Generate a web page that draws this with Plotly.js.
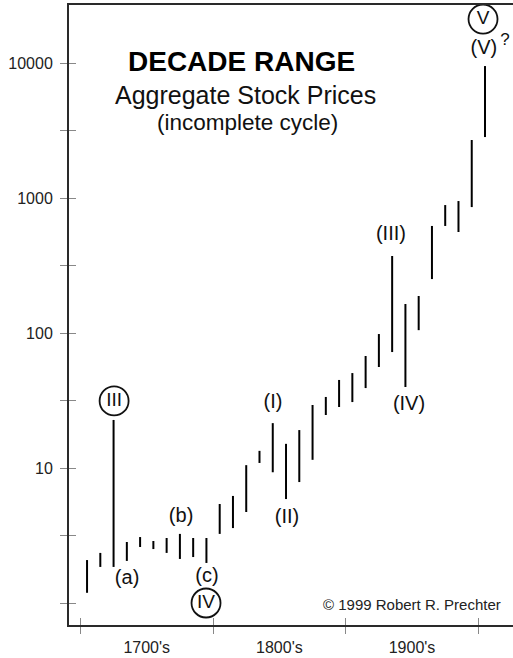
<!DOCTYPE html>
<html><head><meta charset="utf-8">
<script src="https://cdn.plot.ly/plotly-3.0.1.min.js"></script>
<style>html,body{margin:0;padding:0;background:#fff;}#chart{width:513px;height:658px;}</style>
</head><body><div id="chart"></div>
<script>
// Decades (start year) and the aggregate stock price range in each decade
const decades = [1690,1700,1710,1720,1730,1740,1750,1760,1770,1780,
                 1790,1800,1810,1820,1830,1840,1850,1860,1870,1880,
                 1890,1900,1910,1920,1930,1940,1950,1960,1970,1980,1990];
const rangeLow  = [1.19,1.85,1.85,2.05,2.60,2.51,2.35,2.12,2.19,1.98,
                   3.25,3.59,4.72,10.9,9.3,5.89,7.87,11.5,24.7,28.3,
                   30.8,39.1,56.0,72.3,39.8,105,251,621,560,857,2830];
const rangeHigh = [2.08,2.35,22.7,2.83,3.08,2.88,3.03,3.25,3.03,3.03,
                   5.41,6.21,10.5,13.4,21.5,15.1,19.1,29.3,33.6,44.9,
                   50.5,67.6,98.3,372,164,188,621,887,950,2690,9500];

// Axis ticks
const yTickVals = [1,3.162,10,31.62,100,316.2,1000,3162,10000];
const yTickText = ['','','10','','100','','1000','','10000'];
const centuryBounds = [1690,1790,1890,1990];
const centuryMid = [1740,1840,1940];
const centuryLabels = ["1700's","1800's","1900's"];

// Wave labels
const waveText = ['(a)','(b)','(c)','(I)','(II)','(III)','(IV)','(V)'];
const waveX = [1725.2,1765.9,1785.4,1835.2,1845.7,1924.1,1937.7,1994.2];
const waveY = [1.51,4.34,1.56,30.3,4.27,532,29.3,12700];
const circledText = ['III','IV','V'];
const circledX = [1715.4,1784.7,1993.5];
const circledY = [31.4,1.0,21180];

const FONT = 'Liberation Sans, Arial, Helvetica, sans-serif';
const xr = [1681.4, 2016.1];
const yr = [-0.163, 4.430];

// Build bar segments
const bx = [], by = [];
decades.forEach((d,i)=>{
  bx.push(d+5, d+5, null);
  by.push(rangeLow[i], rangeHigh[i], null);
});

const traces = [
  {x:bx, y:by, type:'scatter', mode:'lines', line:{color:'#000', width:2}, hoverinfo:'skip', showlegend:false},
  {x:waveX, y:waveY, text:waveText, type:'scatter', mode:'text', textposition:'middle center',
   textfont:{family:FONT, size:20, color:'#111'}, showlegend:false, hoverinfo:'skip'},
  {x:[2010.1], y:[14550], text:['?'], type:'scatter', mode:'text', textposition:'middle center',
   textfont:{family:FONT, size:17, color:'#111'}, showlegend:false, hoverinfo:'skip'},
  {x:circledX, y:circledY, text:circledText, type:'scatter', mode:'markers+text', textposition:'middle center',
   marker:{symbol:'circle-open', size:29, color:'#111', line:{width:1.8, color:'#111'}},
   textfont:{family:FONT, size:19, color:'#111'}, showlegend:false, hoverinfo:'skip'},
  // invisible helpers for overlay axes
  {x:[1700], y:[10], xaxis:'x2', yaxis:'y', mode:'markers', marker:{opacity:0}, showlegend:false, hoverinfo:'skip'},
  {x:[1700], y:[10], xaxis:'x3', yaxis:'y', mode:'markers', marker:{opacity:0}, showlegend:false, hoverinfo:'skip'},
  {x:[1700], y:[10], xaxis:'x', yaxis:'y2', mode:'markers', marker:{opacity:0}, showlegend:false, hoverinfo:'skip'}
];

function px(x){ return (x-69)/444; }
function py(y){ return (625-y)/620; }

const layout = {
  width:513, height:658,
  margin:{l:69, r:0, t:5, b:33, pad:0},
  paper_bgcolor:'#fff', plot_bgcolor:'#fff',
  font:{family:FONT, color:'#222'},
  showlegend:false,
  xaxis:{range:xr, type:'linear', showgrid:false, zeroline:false,
         showline:true, linecolor:'#2a2a2a', linewidth:2, mirror:true,
         tickmode:'array', tickvals:centuryBounds, ticks:'outside', ticklen:7, tickcolor:'#888', tickwidth:1,
         showticklabels:false},
  xaxis2:{range:xr, overlaying:'x', anchor:'y', side:'bottom', showgrid:false, zeroline:false, showline:false,
         tickmode:'array', tickvals:centuryBounds, ticks:'inside', ticklen:7, tickcolor:'#888', tickwidth:1,
         showticklabels:false},
  xaxis3:{range:xr, overlaying:'x', anchor:'y', side:'bottom', showgrid:false, zeroline:false, showline:false,
         tickmode:'array', tickvals:centuryMid, ticktext:centuryLabels, ticks:'', ticklabelstandoff:11,
         tickfont:{family:FONT, size:16, color:'#222'}},
  yaxis:{type:'log', range:yr, showgrid:false, zeroline:false,
         showline:true, linecolor:'#2a2a2a', linewidth:2,
         tickmode:'array', tickvals:yTickVals, ticktext:yTickText, ticks:'outside', ticklen:7, tickcolor:'#888', tickwidth:1,
         ticklabelstandoff:4, tickfont:{family:FONT, size:16, color:'#222'}},
  yaxis2:{type:'log', range:yr, overlaying:'y', anchor:'x', side:'left', showgrid:false, zeroline:false, showline:false,
         tickmode:'array', tickvals:yTickVals, ticks:'inside', ticklen:7, tickcolor:'#888', tickwidth:1,
         showticklabels:false},
  annotations:[
    {text:'<b>DECADE RANGE</b>', xref:'paper', yref:'paper', x:px(241), y:py(61), xanchor:'center', yanchor:'middle',
     showarrow:false, font:{family:FONT, size:28, color:'#000'}},
    {text:'Aggregate Stock Prices', xref:'paper', yref:'paper', x:px(245), y:py(95), xanchor:'center', yanchor:'middle',
     showarrow:false, font:{family:FONT, size:25, color:'#111'}},
    {text:'(incomplete cycle)', xref:'paper', yref:'paper', x:px(247), y:py(123), xanchor:'center', yanchor:'middle',
     showarrow:false, font:{family:FONT, size:22.5, color:'#111'}},
    {text:'© 1999 Robert R. Prechter', xref:'paper', yref:'paper', x:px(412), y:py(604), xanchor:'center', yanchor:'middle',
     showarrow:false, font:{family:FONT, size:15, color:'#222'}}
  ]
};

Plotly.newPlot('chart', traces, layout, {staticPlot:true, displayModeBar:false});
</script>
</body></html>
